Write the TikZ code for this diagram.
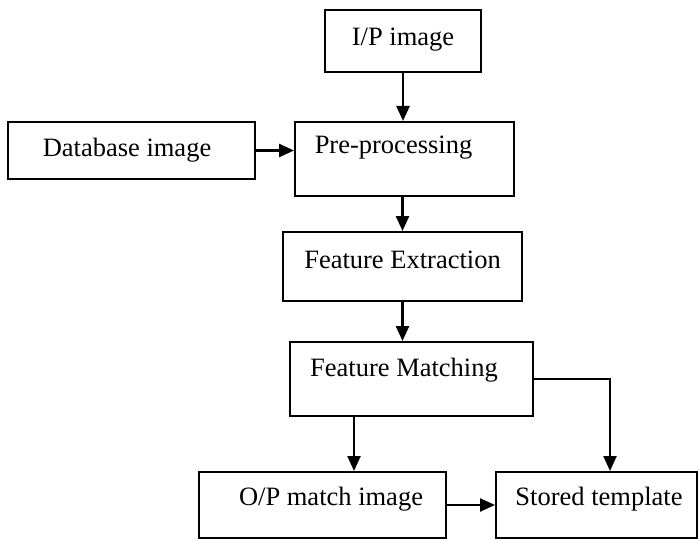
\documentclass[tikz,border=0pt]{standalone}
\usepackage{fontspec}
\setmainfont{Liberation Serif}
\usetikzlibrary{arrows.meta}
\tikzset{
  box/.style={draw=black, line width=2pt, inner sep=0pt, fill=white},
  txt/.style={inner sep=0pt, font=\fontsize{26.5}{30}\selectfont},
  arr/.style={draw=black, line width=2.4pt, -{Triangle[length=15pt,width=13pt]}}
}
\begin{document}
\begin{tikzpicture}[x=1pt,y=-1pt]
  \useasboundingbox (0,0) rectangle (700,540);

  % boxes of the pipeline
  \node[box, minimum width=156pt, minimum height=62pt] (ip)  at (403,41)    {};
  \node[box, minimum width=219pt, minimum height=74pt] (pre) at (404.5,159) {};
  \node[box, minimum width=247pt, minimum height=57pt] (db)  at (131.5,150.5) {};
  \node[box, minimum width=239pt, minimum height=69pt] (fe)  at (402.5,266.5) {};
  \node[box, minimum width=243pt, minimum height=74pt] (fm)  at (411.5,379) {};
  \node[box, minimum width=247pt, minimum height=66pt] (op)  at (322.5,505) {};
  \node[box, minimum width=201pt, minimum height=66pt] (st)  at (596.5,505) {};

  % labels
  \node[txt] (ipt)  at (403,40)    {I/P image};
  \node[txt] (pret) at (393.5,148) {Pre-processing};
  \node[txt] (dbt)  at (127,150)   {Database image};
  \node[txt] (fet)  at (402.5,260) {Feature Extraction};
  \node[txt] (fmt)  at (404,370)   {Feature Matching};
  \node[txt] (opt)  at (331,499)   {O/P match image};
  \node[txt] (stt)  at (599,499)   {Stored template};

  % connectors
  \draw[arr] (ip.south) -- (ip.south |- pre.north);
  \draw[arr] (db.east) -- (db.east -| pre.west);
  \draw[arr] (fe.north |- pre.south) -- (fe.north);
  \draw[arr] (fe.south) -- (fe.south |- fm.north);
  \draw[arr] ([xshift=65pt]fm.south west) -- ([xshift=65pt]fm.south west |- op.north);
  \draw[arr] (fm.east) -| ([xshift=13.5pt]st.north);
  \draw[arr] (op.east) -- (st.west);
\end{tikzpicture}
\end{document}
